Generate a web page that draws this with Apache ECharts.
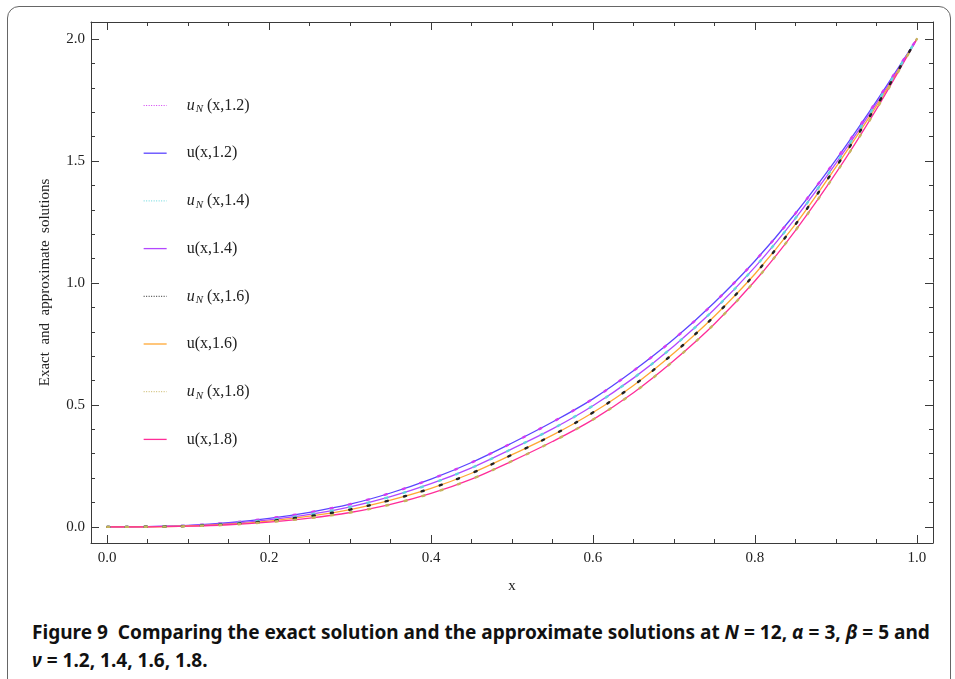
<!DOCTYPE html>
<html>
<head>
<meta charset="utf-8">
<script src="https://cdn.jsdelivr.net/npm/echarts@6/dist/echarts.min.js"></script>
<style>
  html, body { margin: 0; padding: 0; background: #fff; }
  #wrap { position: relative; width: 955px; height: 679px; overflow: hidden; }
  #frame { position: absolute; left: 7px; top: 6px; width: 944px; height: 720px;
           border: 1px solid #666; border-radius: 12px; box-sizing: border-box; }
  #chart { position: absolute; left: 0; top: 0; width: 955px; height: 600px; }
  .cap { position: absolute; left: 32px; font-family: "Noto Sans", "Open Sans", sans-serif;
         font-weight: bold; font-size: 19px; color: #111; white-space: nowrap;
         transform-origin: 0 50%; }
  .cap i { font-style: italic; }
</style>
</head>
<body>
<div id="wrap">
  <div id="frame"></div>
  <div id="chart"></div>
  <div class="cap" id="cap1" style="top:619px">Figure 9&nbsp; Comparing the exact solution and the approximate solutions at <i>N</i> = 12, <i>α</i> = 3, <i>β</i> = 5 and</div>
  <div class="cap" id="cap2" style="top:647px"><i>ν</i> = 1.2, 1.4, 1.6, 1.8.</div>
</div>
<script>
// ---- data ----
var xValues = [0, 0.05, 0.1, 0.15, 0.2, 0.25, 0.3, 0.35, 0.4, 0.45, 0.5, 0.55, 0.6, 0.65, 0.7, 0.75, 0.8, 0.85, 0.9, 0.95, 1.0];

var uExact12 = [0, 0.001, 0.006, 0.017, 0.035, 0.06, 0.093, 0.139, 0.196, 0.264, 0.344, 0.43, 0.525, 0.64, 0.77, 0.92, 1.09, 1.285, 1.505, 1.745, 2.0];
var uApprox12 = [0, 0.001, 0.006, 0.017, 0.035, 0.06, 0.093, 0.139, 0.196, 0.264, 0.344, 0.43, 0.525, 0.64, 0.77, 0.92, 1.09, 1.285, 1.505, 1.745, 2.0];

var uExact14 = [0, 0.0008, 0.005, 0.014, 0.029, 0.051, 0.082, 0.124, 0.177, 0.242, 0.32, 0.402, 0.497, 0.61, 0.742, 0.892, 1.065, 1.265, 1.49, 1.735, 2.0];
var uApprox14 = [0, 0.0008, 0.005, 0.014, 0.029, 0.051, 0.082, 0.124, 0.177, 0.242, 0.32, 0.402, 0.497, 0.61, 0.742, 0.892, 1.065, 1.265, 1.49, 1.735, 2.0];

var uExact16 = [0, 0.0005, 0.0036, 0.011, 0.024, 0.044, 0.071, 0.11, 0.158, 0.22, 0.296, 0.376, 0.469, 0.58, 0.713, 0.864, 1.037, 1.24, 1.475, 1.725, 2.0];
var uApprox16 = [0, 0.0005, 0.0036, 0.011, 0.024, 0.044, 0.071, 0.11, 0.158, 0.22, 0.296, 0.376, 0.469, 0.58, 0.713, 0.864, 1.037, 1.24, 1.475, 1.725, 2.0];

var uExact18 = [0, 0.0004, 0.0028, 0.0088, 0.02, 0.036, 0.059, 0.092, 0.137, 0.196, 0.27, 0.35, 0.44, 0.55, 0.682, 0.832, 1.008, 1.215, 1.45, 1.712, 2.0];
var uApprox18 = [0, 0.0004, 0.0028, 0.0088, 0.02, 0.036, 0.059, 0.092, 0.137, 0.196, 0.27, 0.35, 0.44, 0.55, 0.682, 0.832, 1.008, 1.215, 1.45, 1.712, 2.0];

var seriesNames = ['uN(x,1.2)', 'u(x,1.2)', 'uN(x,1.4)', 'u(x,1.4)', 'uN(x,1.6)', 'u(x,1.6)', 'uN(x,1.8)', 'u(x,1.8)'];
var xMajorTicks = [0, 0.2, 0.4, 0.6, 0.8, 1.0];
var xMinorTicks = [0.05, 0.1, 0.15, 0.25, 0.3, 0.35, 0.45, 0.5, 0.55, 0.65, 0.7, 0.75, 0.85, 0.9, 0.95];
var yMajorTicks = [0, 0.5, 1.0, 1.5, 2.0];
var yMinorTicks = [0.1, 0.2, 0.3, 0.4, 0.6, 0.7, 0.8, 0.9, 1.1, 1.2, 1.3, 1.4, 1.6, 1.7, 1.8, 1.9];
var xAxisTitle = 'x';
var yAxisTitle = 'Exact  and  approximate  solutions';

// ---- chart ----
var SERIF = '"Liberation Serif", "DejaVu Serif", serif';
var AX = '#3a3a3a';
function pts(arr) { return xValues.map(function (x, i) { return [x, arr[i]]; }); }

var exactColors = ['#5b45ff', '#b347ff', '#ffa733', '#ff2d98'];
var approxColors = ['#d13cf2', '#62d6dc', '#222222', '#c6b25c'];
var exactData = [uExact12, uExact14, uExact16, uExact18];
var approxData = [uApprox12, uApprox14, uApprox16, uApprox18];

var series = [];
var legendData = [];
for (var k = 0; k < 4; k++) {
  series.push({
    name: seriesNames[2 * k], type: 'line', data: pts(approxData[k]), smooth: 0.35,
    showSymbol: false, symbol: 'none', z: 5, silent: true,
    lineStyle: { color: approxColors[k], width: 2.4, type: [2.2, 16.5], cap: 'round' },
    itemStyle: { color: approxColors[k] }
  });
  series.push({
    name: seriesNames[2 * k + 1], type: 'line', data: pts(exactData[k]), smooth: 0.35,
    showSymbol: false, symbol: 'none', z: 3, silent: true,
    lineStyle: { color: exactColors[k], width: 1.3 },
    itemStyle: { color: exactColors[k] }
  });
}
seriesNames.forEach(function (n, i) {
  var dotted = (i % 2 === 0);
  legendData.push({
    name: n,
    itemStyle: { color: 'transparent', borderWidth: 0, opacity: 0 },
    lineStyle: dotted ? { type: [1, 1.5], width: 1, cap: 'butt' } : { width: 1.3, type: 'solid' }
  });
});

function mkAxis(base, extra) {
  var o = {};
  for (var key in base) o[key] = base[key];
  for (var key2 in extra) o[key2] = extra[key2];
  return o;
}
var xBase = { type: 'value', min: -0.02, max: 1.02, splitLine: { show: false } };
var yBase = { type: 'value', min: -0.066, max: 2.07, splitLine: { show: false } };

var option = {
  animation: false,
  backgroundColor: 'transparent',
  grid: { left: 91, right: 22, top: 22, bottom: 57, containLabel: false },
  legend: {
    orient: 'vertical', left: 138, top: 91, itemWidth: 23, itemHeight: 14, itemGap: 29.2,
    data: legendData,
    textStyle: { fontFamily: SERIF, fontSize: 16, color: '#222', padding: [0, 0, 0, 15], lineHeight: 18,
      rich: {
        it: { fontFamily: SERIF, fontStyle: 'italic', fontSize: 16, color: '#222', lineHeight: 18 },
        sub: { fontFamily: SERIF, fontStyle: 'italic', fontSize: 11, color: '#222', lineHeight: 18, padding: [8, 0, 0, 1] },
        n: { fontFamily: SERIF, fontSize: 16, color: '#222', lineHeight: 18 }
      }
    },
    formatter: function (name) {
      if (name.indexOf('uN') === 0) return '{it|u}{sub|N}{n| ' + name.slice(2) + '}';
      return '{n|' + name + '}';
    },
    selectedMode: false
  },
  xAxis: [
    mkAxis(xBase, { position: 'bottom', name: xAxisTitle, nameLocation: 'middle', nameGap: 36,
      nameTextStyle: { fontFamily: SERIF, fontSize: 15, color: '#222' },
      axisLine: { show: true, onZero: false, lineStyle: { color: AX, width: 1 } },
      axisTick: { show: true, inside: true, length: 8, customValues: xMajorTicks, lineStyle: { color: AX } },
      axisLabel: { show: true, customValues: xMajorTicks, margin: 8, fontFamily: SERIF, fontSize: 15, color: '#222',
        formatter: function (v) { return v.toFixed(1); } } }),
    mkAxis(xBase, { position: 'bottom', axisLine: { show: false, onZero: false },
      axisTick: { show: true, inside: true, length: 4, customValues: xMinorTicks, lineStyle: { color: AX } },
      axisLabel: { show: false } }),
    mkAxis(xBase, { position: 'top',
      axisLine: { show: true, onZero: false, lineStyle: { color: AX, width: 1 } },
      axisTick: { show: true, inside: true, length: 8, customValues: xMajorTicks, lineStyle: { color: AX } },
      axisLabel: { show: false } }),
    mkAxis(xBase, { position: 'top', axisLine: { show: false, onZero: false },
      axisTick: { show: true, inside: true, length: 4, customValues: xMinorTicks, lineStyle: { color: AX } },
      axisLabel: { show: false } })
  ],
  yAxis: [
    mkAxis(yBase, { position: 'left', name: yAxisTitle, nameLocation: 'middle', nameGap: 38, nameRotate: 90,
      nameTextStyle: { fontFamily: SERIF, fontSize: 15, color: '#222' },
      axisLine: { show: true, onZero: false, lineStyle: { color: AX, width: 1 } },
      axisTick: { show: true, inside: true, length: 8, customValues: yMajorTicks, lineStyle: { color: AX } },
      axisLabel: { show: true, customValues: yMajorTicks, margin: 6, fontFamily: SERIF, fontSize: 15, color: '#222',
        formatter: function (v) { return v.toFixed(1); } } }),
    mkAxis(yBase, { position: 'left', axisLine: { show: false, onZero: false },
      axisTick: { show: true, inside: true, length: 4, customValues: yMinorTicks, lineStyle: { color: AX } },
      axisLabel: { show: false } }),
    mkAxis(yBase, { position: 'right',
      axisLine: { show: true, onZero: false, lineStyle: { color: AX, width: 1 } },
      axisTick: { show: true, inside: true, length: 8, customValues: yMajorTicks, lineStyle: { color: AX } },
      axisLabel: { show: false } }),
    mkAxis(yBase, { position: 'right', axisLine: { show: false, onZero: false },
      axisTick: { show: true, inside: true, length: 4, customValues: yMinorTicks, lineStyle: { color: AX } },
      axisLabel: { show: false } })
  ],
  series: series
};

var chart = echarts.init(document.getElementById('chart'), null, { renderer: 'canvas' });
chart.setOption(option);

// fit caption width to the reference (line 1 spans about 898px)
var c1 = document.getElementById('cap1'), c2 = document.getElementById('cap2');
var s = 898 / c1.offsetWidth;
c1.style.transform = 'scaleX(' + s + ')';
c2.style.transform = 'scaleX(' + s + ')';
</script>
</body>
</html>
